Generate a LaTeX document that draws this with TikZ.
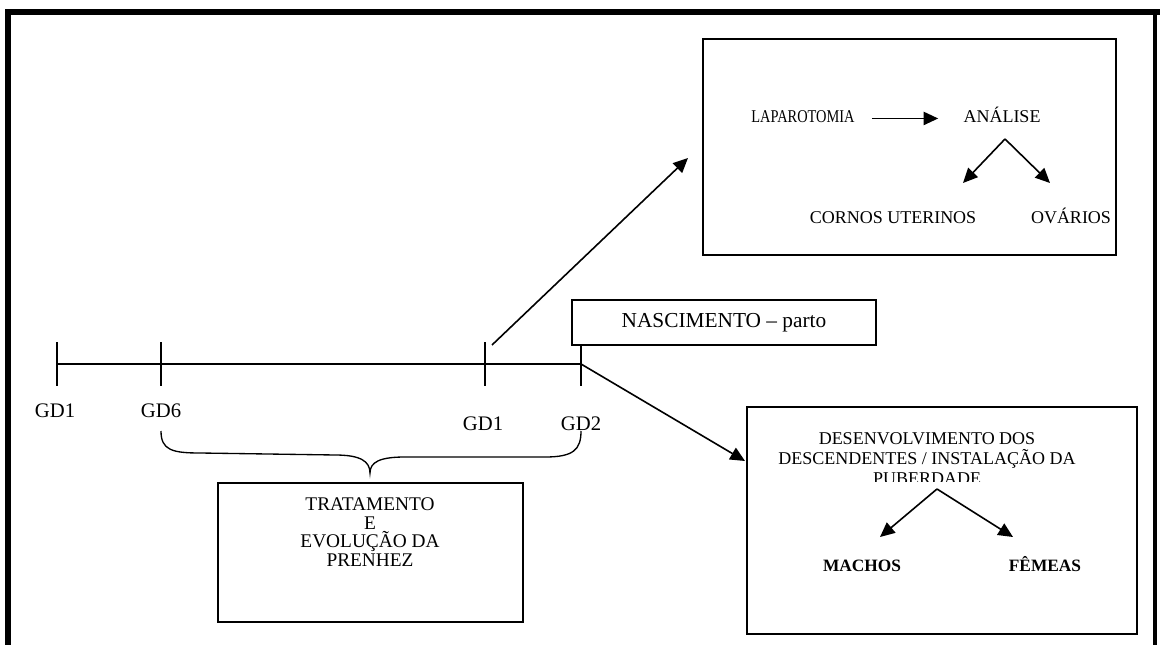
\documentclass[tikz,border=0pt]{standalone}
\usepackage{fontspec}
\setmainfont{Liberation Serif}
\usetikzlibrary{arrows.meta}
\tikzset{box/.style={draw, line width=1.2pt, inner sep=0, outer sep=0},
  txt/.style={inner sep=0, outer sep=0, align=center, font=\fontsize{13.5}{15}\selectfont},
  gd/.style={inner sep=0, outer sep=0, anchor=base, font=\fontsize{15.5}{18}\selectfont},
  arr/.style={-{Triangle[length=11pt,width=10pt]}, line width=1.2pt}
}

\begin{document}
\begin{tikzpicture}[x=0.75pt, y=-0.75pt, line width=1.2pt]
\useasboundingbox (0,0) rectangle (1160,645);
% Frame
\draw[line width=4.5pt] (8,645) |- (1160,12);
\draw[line width=3pt] (1155,12) -- (1155,645);
% Analysis box
\node[box, minimum width=309.75pt, minimum height=162pt] (anabox) at (909.5,147) {};
\node[txt, anchor=base] (lap) at (803,123) {\scalebox{0.8}[1]{LAPAROTOMIA}};
\node[txt, anchor=base] (ana) at (1002,123) {ANÁLISE};
\node[txt, anchor=base] (cor) at (893,224) {CORNOS UTERINOS};
\node[txt, anchor=base] (ova) at (1071,224) {OVÁRIOS};
\coordinate (anafork) at (1005,139);
\coordinate (corTip) at (963,183);
\coordinate (ovaTip) at (1050,183);
\draw[arr, shorten <=13pt, shorten >=19pt] ([yshift=-1pt]lap.east) -- ([yshift=-1pt]lap.east -| ana.west);
\draw[arr] (anafork) -- (corTip);
\draw[arr] (anafork) -- (ovaTip);
% Timeline
\coordinate (t1) at (57,364);
\coordinate (t2) at (161,364);
\coordinate (t3) at (485,364);
\coordinate (t4) at (581,364);
\draw (t1) -- (t4);
\foreach \t in {t1,t2,t3}
  \draw (\t) ++(0,-22) -- ++(0,44);
\draw (t4) ++(0,-19) -- ++(0,41);
% Labels
\node[gd] (gd1) at (55,417) {GD1};
\node[gd] (gd6) at (161,417) {GD6};
\node[gd] (gd1b) at (483,430) {GD1};
\node[gd] (gd2) at (581,430) {GD2};
% Birth
\node[box, minimum width=228pt, minimum height=33.75pt, font=\fontsize{16}{19}\selectfont] (nasc) at (724,322.5) {NASCIMENTO -- parto};
% Arrows from timeline
\coordinate (lapStart) at (492,345);
\coordinate (lapEnd) at (688,158);
\draw[arr] (lapStart) -- (lapEnd);
\coordinate (devTip) at (745,461);
\draw[arr] (t4) -- (devTip);
% Brace
\draw[line width=1pt] (161,431) .. controls (161,450) and (172,453) .. (200,453)
  -- (335,455) .. controls (360,455) and (370,461) .. (370,473)
  .. controls (370,462) and (380,457) .. (405,457)
  -- (545,457) .. controls (573,457) and (581,450) .. (581,431);
% Treatment box
\node[box, minimum width=228.75pt, minimum height=104.25pt] (tratbox) at (370.5,552.5) {};
\node[txt, font=\fontsize{14.5}{13.8}\selectfont] (trat) at (370,532) {TRATAMENTO\\E\\EVOLUÇÃO DA\\PRENHEZ};
% Development box
\node[box, minimum width=292.5pt, minimum height=170.25pt] (devbox) at (942,520.5) {};
\begin{scope}
\clip (760,415) rectangle (1120,481);
\node[txt] (dev) at (927,459) {DESENVOLVIMENTO DOS\\DESCENDENTES / INSTALAÇÃO DA\\PUBERDADE};
\end{scope}
\coordinate (devfork) at (937,489);
\coordinate (machTip) at (880,537);
\coordinate (femTip) at (1013,537);
\draw[arr] (devfork) -- (machTip);
\draw[arr] (devfork) -- (femTip);
\node[txt, anchor=base, font=\fontsize{13}{15}\selectfont\bfseries] (mach) at (862,571) {MACHOS};
\node[txt, anchor=base, font=\fontsize{13}{15}\selectfont\bfseries] (fem) at (1045,571) {FÊMEAS};
\end{tikzpicture}
\end{document}
